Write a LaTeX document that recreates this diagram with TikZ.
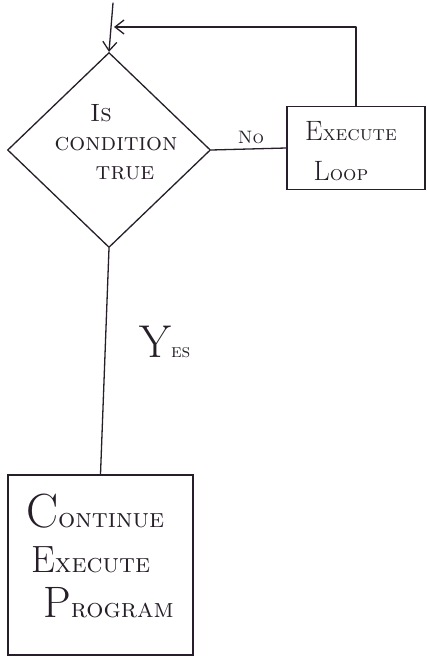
\documentclass[tikz,border=0pt]{standalone}
\usetikzlibrary{shapes.geometric,arrows.meta}
\definecolor{ink}{RGB}{38,30,40}
\newcommand\myini[4]{{\fontsize{#1}{#1}\selectfont #2}{\fontsize{#3}{#3}\selectfont\scshape #4}}
\begin{document}
\begin{tikzpicture}[x=1pt,y=-1pt]
\tikzset{
  line/.style={draw=ink, line width=1.3pt, line cap=round, line join=round},
  decision/.style={diamond, draw=ink, line width=1.3pt, minimum width=203pt, minimum height=195pt, inner sep=0pt},
  process/.style={rectangle, draw=ink, line width=1.3pt, inner sep=0pt},
  tip/.style={-{Straight Barb[length=9pt,width=14pt,line width=1.3pt]}},
  lbl/.style={text=ink, inner sep=0pt}
}
\fill[white] (0,0) rectangle (427,658);
\useasboundingbox (0,0) rectangle (427,658);

\node[decision] (cond) at (109,150) {};
\node[lbl, align=center, font=\fontsize{25}{29}\selectfont\scshape] (condtxt) at (116,142) {\hspace*{-30pt}Is\\condition\\\hspace*{18pt}true};
\node[process, minimum width=138pt, minimum height=83pt] (loop) at (356,148) {};
\node[lbl, align=center, font=\fontsize{20}{40}\selectfont] (looptxt) at (351,151) {\myini{28}{E}{21}{xecute}\\\hspace*{-20pt}\myini{28}{L}{21}{oop}};
\node[process, minimum width=185pt, minimum height=180pt] (cont) at (100.5,565) {};
\node[lbl, align=left, font=\fontsize{26}{45}\selectfont] (conttxt) at (100,556) {\myini{48}{C}{27}{ontinue}\\\hspace*{5pt}\myini{38}{E}{27}{xecute}\\\hspace*{17pt}\myini{44}{P}{27}{rogram}};

\node[lbl, font=\fontsize{18}{18}\selectfont\scshape] (no) at (251,137) {No};
\node[lbl, anchor=base west] (yes) at (139,357) {\myini{46}{Y}{19}{es}};

\coordinate (top) at (113,3);
\coordinate (join) at (114,27);

\draw[line, tip] (top) -- (cond.north);
\draw[line, tip] (loop.north) |- (join);
\draw[line] (cond.east) -- (loop.west);
\draw[line] (cond.south) -- (cont.north);
\end{tikzpicture}
\end{document}
